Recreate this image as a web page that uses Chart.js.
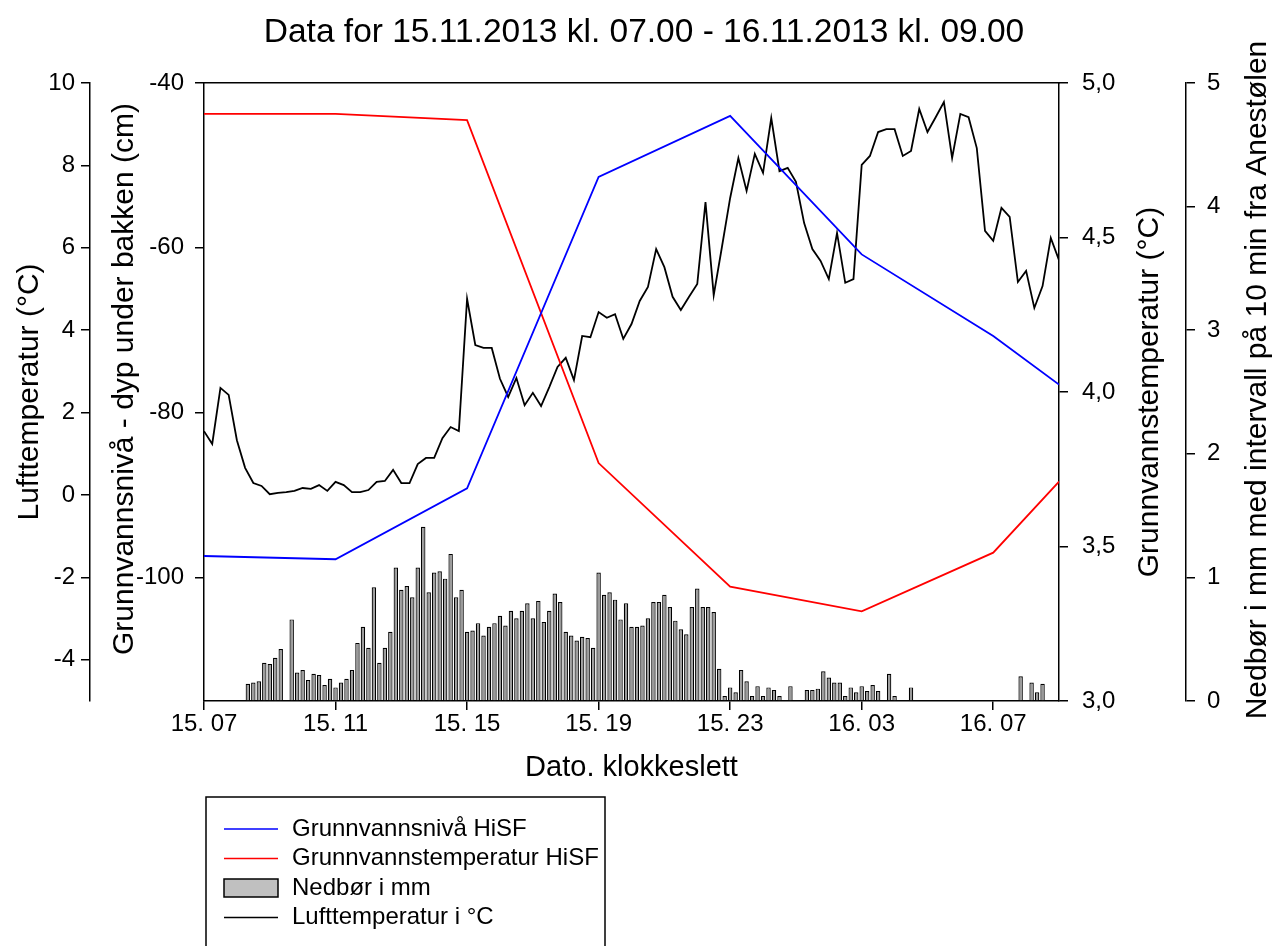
<!DOCTYPE html>
<html>
<head>
<meta charset="utf-8">
<title>Data for 15.11.2013 kl. 07.00 - 16.11.2013 kl. 09.00</title>
<script src="https://cdn.jsdelivr.net/npm/chart.js@4.4.0/dist/chart.umd.min.js"></script>
<style>
  html, body { margin: 0; padding: 0; background: #fff; }
  #wrap { width: 1288px; height: 946px; }
</style>
</head>
<body>
<div id="wrap"><canvas id="chart" width="1288" height="946"></canvas></div>
<script>

//
// Data (x = hours after 15.11 kl. 07.00)
//
var xTickLabels = ['15. 07', '15. 11', '15. 15', '15. 19', '15. 23', '16. 03', '16. 07'];

// Nedbør, mm per 10 min, one row per hour
var precipMm = [
  0, 0, 0, 0, 0, 0,
  0, 0, 0.14, 0.15, 0.16, 0.31,
  0.30, 0.35, 0.42, 0, 0.66, 0.23,
  0.25, 0.17, 0.22, 0.21, 0.13, 0.18,
  0.11, 0.15, 0.18, 0.25, 0.47, 0.60,
  0.43, 0.92, 0.31, 0.43, 0.56, 1.08,
  0.90, 0.93, 0.84, 1.08, 1.41, 0.88,
  1.04, 1.05, 0.99, 1.19, 0.84, 0.90,
  0.56, 0.57, 0.63, 0.53, 0.60, 0.63,
  0.69, 0.61, 0.73, 0.67, 0.73, 0.79,
  0.67, 0.81, 0.64, 0.73, 0.87, 0.80,
  0.56, 0.53, 0.49, 0.52, 0.51, 0.43,
  1.04, 0.86, 0.88, 0.82, 0.66, 0.79,
  0.60, 0.60, 0.61, 0.67, 0.80, 0.80,
  0.86, 0.76, 0.65, 0.58, 0.54, 0.76,
  0.91, 0.76, 0.76, 0.72, 0.26, 0.04,
  0.11, 0.07, 0.25, 0.16, 0.04, 0.12,
  0.04, 0.11, 0.09, 0.04, 0, 0.12,
  0, 0, 0.09, 0.09, 0.10, 0.24,
  0.19, 0.15, 0.15, 0.04, 0.11, 0.07,
  0.12, 0.08, 0.13, 0.08, 0, 0.22,
  0.04, 0, 0, 0.11, 0, 0,
  0, 0, 0, 0, 0, 0,
  0, 0, 0, 0, 0, 0,
  0, 0, 0, 0, 0, 0.20,
  0, 0.15, 0.07, 0.14, 0, 0,
  0
];

// Lufttemperatur, every 15 min, one row per hour
var airTemp = [
  1.55, 1.24, 2.60, 2.43,
  1.33, 0.66, 0.29, 0.22,
  0.02, 0.05, 0.07, 0.10,
  0.17, 0.15, 0.24, 0.10,
  0.32, 0.24, 0.07, 0.07,
  0.12, 0.32, 0.34, 0.61,
  0.29, 0.29, 0.75, 0.90,
  0.90, 1.38, 1.65, 1.55,
  4.76, 3.64, 3.57, 3.57,
  2.82, 2.38, 2.84, 2.18,
  2.48, 2.16, 2.62, 3.11,
  3.33, 2.79, 3.86, 3.83,
  4.44, 4.30, 4.39, 3.79,
  4.15, 4.71, 5.05, 5.97,
  5.53, 4.81, 4.49, 4.81,
  5.12, 7.11, 4.85, 6.02,
  7.21, 8.18, 7.38, 8.28,
  7.82, 9.15, 7.86, 7.94,
  7.60, 6.60, 5.97, 5.68,
  5.24, 6.36, 5.15, 5.24,
  8.01, 8.23, 8.81, 8.88,
  8.88, 8.23, 8.35, 9.37,
  8.81, 9.17, 9.54, 8.18,
  9.25, 9.17, 8.42, 6.41,
  6.17, 6.97, 6.75, 5.17,
  5.44, 4.54, 5.07, 6.24,
  5.70
];

// Grunnvann HiSF
var gwHours = [0, 4, 8, 12, 16, 20, 24, 26];
var gwLevel = [-97.4, -97.8, -89.2, -51.4, -44.0, -60.8, -70.7, -76.6];
var gwTemp = [4.90, 4.90, 4.88, 3.77, 3.37, 3.29, 3.48, 3.71];


function stepPoints(values, stepHours) {
  return values.map(function (v, i) { return { x: i * stepHours, y: v }; });
}
function gwPoints(values) {
  return gwHours.map(function (h, i) { return { x: h, y: values[i] }; });
}

Chart.defaults.font.family = "'Liberation Sans', Arial, sans-serif";
Chart.defaults.font.size = 24;
Chart.defaults.color = '#000';

var axisLine = { display: true, color: '#000', width: 1.5 };
var tickMarks = { display: true, offset: false, drawOnChartArea: false, drawTicks: true, tickLength: 9, color: '#000', lineWidth: 1.5 };
var titleFont = { size: 30 };

//
// Axis titles drawn by hand: the right ones must read bottom-to-top too,
// and the long ones sit a bit above the middle of the axis
//
var sideTitles = [
  { axis: 'yLevel', text: 'Grunnvannsnivå - dyp under bakken (cm)', edge: 'left', gap: 35, dy: -13 },
  { axis: 'yGw', text: 'Grunnvannstemperatur (°C)', edge: 'right', gap: 36, dy: 0 },
  { axis: 'yPrecip', text: 'Nedbør i mm med intervall på 10 min fra Anestølen', edge: 'right', gap: 30, dy: -12 }
];

var sideTitlePlugin = {
  id: 'sideTitles',
  afterDraw: function (chart) {
    var ctx = chart.ctx;
    ctx.save();
    ctx.font = "30px 'Liberation Sans', Arial, sans-serif";
    ctx.fillStyle = '#000';
    ctx.textAlign = 'center';
    ctx.textBaseline = 'middle';
    sideTitles.forEach(function (t) {
      var s = chart.scales[t.axis];
      var x = t.edge === 'left' ? s.left + t.gap : s.right - t.gap;
      ctx.save();
      ctx.translate(x, (s.top + s.bottom) / 2 + t.dy);
      ctx.rotate(-Math.PI / 2);
      ctx.fillText(t.text, 0, 0);
      ctx.restore();
    });
    ctx.restore();
  }
};

//
// Boxed legend under the plot, one entry per row
//
var legendBox = {
  id: 'legendBox',
  afterDraw: function (chart) {
    var ctx = chart.ctx;
    var left = chart.chartArea.left + 2;
    var top = chart.scales.x.bottom + 12;
    ctx.save();
    ctx.strokeStyle = '#000';
    ctx.lineWidth = 1.5;
    ctx.strokeRect(left, top, 399, 200);
    ctx.font = "24px 'Liberation Sans', Arial, sans-serif";
    ctx.textBaseline = 'middle';
    chart.data.datasets.forEach(function (ds, i) {
      var y = top + 32 + i * 29.5;
      if (ds.type === 'bar') {
        ctx.fillStyle = '#c0c0c0';
        ctx.fillRect(left + 18, y - 9, 54, 18);
        ctx.strokeStyle = '#000';
        ctx.lineWidth = 1.5;
        ctx.strokeRect(left + 18, y - 9, 54, 18);
      } else {
        ctx.strokeStyle = ds.borderColor;
        ctx.lineWidth = 1.5;
        ctx.beginPath();
        ctx.moveTo(left + 18, y);
        ctx.lineTo(left + 72, y);
        ctx.stroke();
      }
      ctx.fillStyle = '#000';
      ctx.fillText(ds.label, left + 86, y);
    });
    ctx.restore();
  }
};

var ctx = document.getElementById('chart').getContext('2d');
var chart = new Chart(ctx, {
  type: 'line',
  data: {
    datasets: [{
      label: 'Grunnvannsnivå HiSF',
      data: gwPoints(gwLevel),
      yAxisID: 'yLevel',
      borderColor: '#0000ff',
      borderWidth: 1.8,
      pointRadius: 0,
      order: 0
    }, {
      label: 'Grunnvannstemperatur HiSF',
      data: gwPoints(gwTemp),
      yAxisID: 'yGw',
      borderColor: '#ff0000',
      borderWidth: 1.8,
      pointRadius: 0,
      order: 0
    }, {
      type: 'bar',
      label: 'Nedbør i mm',
      data: stepPoints(precipMm, 1 / 6),
      yAxisID: 'yPrecip',
      backgroundColor: '#9a9a9a',
      borderColor: '#000',
      borderWidth: 1.2,
      barPercentage: 0.95,
      categoryPercentage: 0.85,
      order: 1
    }, {
      label: 'Lufttemperatur i °C',
      data: stepPoints(airTemp, 0.25),
      yAxisID: 'yTemp',
      borderColor: '#000',
      borderWidth: 1.8,
      pointRadius: 0,
      order: 0
    }]
  },
  options: {
    responsive: false,
    devicePixelRatio: 1,
    animation: false,
    layout: { padding: { left: 0, right: 0, top: 0, bottom: 161 } },
    plugins: {
      legend: { display: false },
      tooltip: { enabled: false },
      title: {
        display: true,
        text: 'Data for 15.11.2013 kl. 07.00 - 16.11.2013 kl. 09.00',
        font: { size: 33.5, weight: 'normal' },
        color: '#000',
        padding: { top: 13, bottom: 29.8 }
      }
    },
    scales: {
      x: {
        type: 'linear',
        position: 'bottom',
        min: 0,
        max: 26,
        offset: false,
        ticks: {
          stepSize: 4,
          includeBounds: false,
          autoSkip: false,
          maxRotation: 0,
          padding: 0,
          callback: function (v, i) { return xTickLabels[i]; }
        },
        grid: tickMarks,
        border: axisLine,
        title: { display: true, text: 'Dato. klokkeslett', font: { size: 29 }, padding: { top: 0, bottom: 0 } },
        afterFit: function (s) { s.height = 84; }
      },
      xTop: {
        type: 'linear',
        position: 'top',
        min: 0,
        max: 26,
        ticks: { display: false },
        grid: { display: false },
        border: axisLine,
        afterFit: function (s) { s.height = 0; }
      },
      yLevel: {
        type: 'linear',
        position: 'left',
        weight: 0,
        min: -115,
        max: -40,
        ticks: { stepSize: 20, includeBounds: false, padding: 11 },
        grid: tickMarks,
        border: axisLine,
        afterFit: function (s) { s.width = 114; }
      },
      yTemp: {
        type: 'linear',
        position: 'left',
        weight: 1,
        min: -5,
        max: 10,
        ticks: { stepSize: 2, includeBounds: false, padding: 6 },
        grid: tickMarks,
        border: axisLine,
        title: { display: true, text: 'Lufttemperatur (°C)', font: titleFont, padding: { top: 12, bottom: 0 } },
        afterFit: function (s) { s.width = 90; }
      },
      yGw: {
        type: 'linear',
        position: 'right',
        weight: 0,
        min: 3,
        max: 5,
        ticks: {
          stepSize: 0.5,
          padding: 14,
          callback: function (v) { return v.toFixed(1).replace('.', ','); }
        },
        grid: tickMarks,
        border: axisLine,
        afterFit: function (s) { s.width = 127; }
      },
      yPrecip: {
        type: 'linear',
        position: 'right',
        weight: 1,
        min: 0,
        max: 5,
        ticks: { stepSize: 1, padding: 12 },
        grid: tickMarks,
        border: axisLine,
        afterFit: function (s) { s.width = 102; }
      }
    }
  },
  plugins: [sideTitlePlugin, legendBox]
});

</script>
</body>
</html>
